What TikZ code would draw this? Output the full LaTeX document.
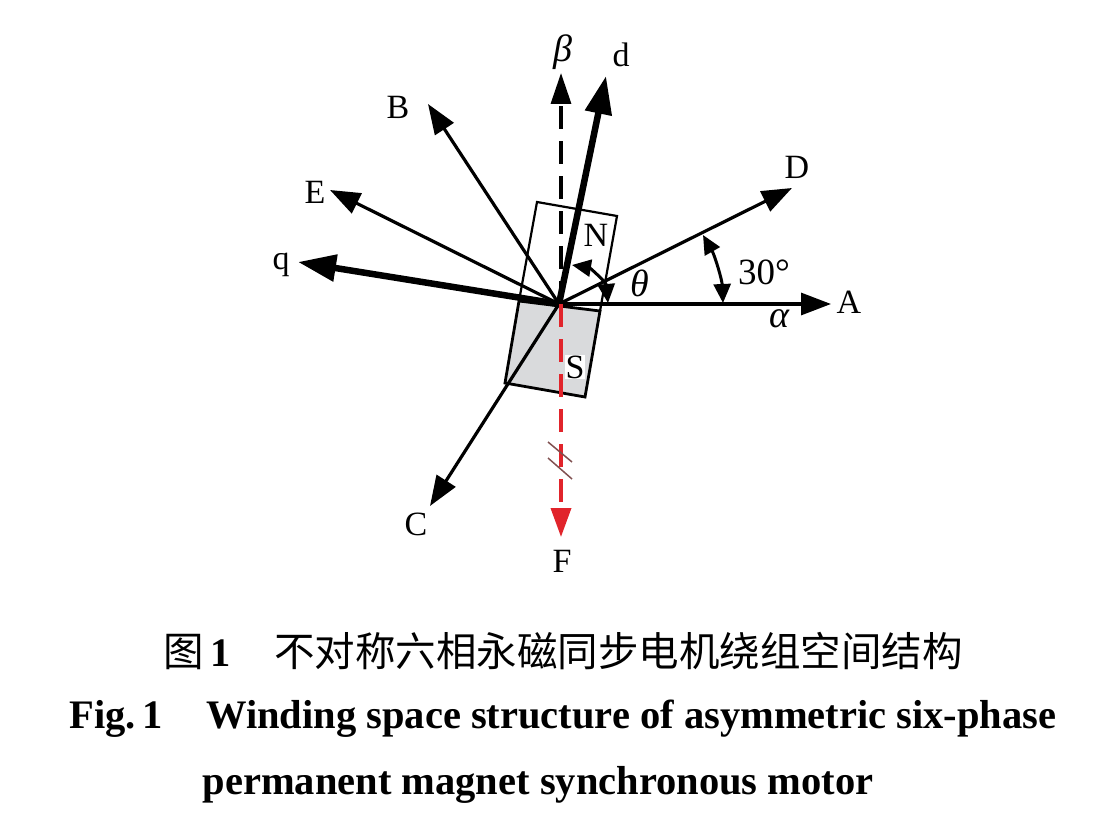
\documentclass[tikz,border=0pt]{standalone}
\usepackage{fontspec}
\setmainfont{Liberation Serif}
\newfontfamily\cjk{Noto Sans CJK SC}
\usepackage{xcolor}
\usetikzlibrary{positioning, arrows.meta}
\definecolor{magnetgray}{HTML}{D9DADC}
\definecolor{fluxred}{HTML}{E1242B}
\definecolor{hatchbrown}{HTML}{805050}

\begin{document}
\begin{tikzpicture}[
    x=1pt, y=-1pt,
    axislabel/.style={font=\fontsize{34}{34}\selectfont, inner sep=0pt},
    greeklabel/.style={font=\fontsize{38}{38}\selectfont\itshape, inner sep=0pt},
    captionline/.style={font=\fontsize{40.5}{40.5}\selectfont\bfseries, inner sep=0pt},
    arrow/.style={-{Triangle[length=30pt,width=22pt]}, line width=3.2pt},
    heavyarrow/.style={-{Triangle[length=38pt,width=26pt]}, line width=6.5pt},
    anglearrow/.style={{Triangle[length=19pt,width=17pt]}-{Triangle[length=19pt,width=17pt]}, line width=3pt},
    magnet/.style={line width=2.8pt, line join=miter}
]
\useasboundingbox (0,0) rectangle (1098,832);

% centre and free ends
\coordinate (o) at (559,304);
\coordinate (tipa) at (831,304);
\coordinate (tipd) at (792,188);
\coordinate (tipb) at (428,104);
\coordinate (tipe) at (330,190);
\coordinate (tipc) at (430,506);
\coordinate (tipq) at (298,262);
\coordinate (tipdd) at (606,76);
\coordinate (tipbeta) at (561,73);
\coordinate (tipf) at (561,537);
\coordinate (oa) at (561,304);

% magnet
\coordinate (n1) at (537,202);
\coordinate (n2) at (617,216);
\coordinate (m1) at (519,301);
\coordinate (m2) at (600,311);
\coordinate (s1) at (505,383);
\coordinate (s2) at (585,397);
\filldraw[magnet, fill=magnetgray] (m1) -- (m2) -- (s2) -- (s1) -- cycle;
\draw[line width=2.2pt] (m1) -- (n1) -- (n2) -- (m2);

\draw[dash pattern=on 23pt off 12pt, line width=3.4pt, -{Triangle[length=31pt,width=20pt]}] (oa) -- (tipbeta);
\draw[arrow] (o) -- (tipa);
\draw[arrow] (o) -- (tipd);
\draw[arrow] (o) -- (tipb);
\draw[arrow] (o) -- (tipe);
\draw[arrow] (o) -- (tipc);
\draw[heavyarrow] (o) -- (tipq);
\draw[heavyarrow] (o) -- (tipdd);
\draw[fluxred, dash pattern=on 23pt off 12pt, line width=3.6pt, -{Triangle[length=29pt,width=20pt]}] (oa) -- (tipf);

% double slash on F
\coordinate (h1) at (548,442);
\coordinate (h2) at (572,462);
\coordinate (h3) at (548,458);
\coordinate (h4) at (572,479);
\draw[hatchbrown, line width=1.5pt] (h1) -- (h2);
\draw[hatchbrown, line width=1.5pt] (h3) -- (h4);

% angles
\coordinate (th1) at (572,265);
\coordinate (th2) at (608,303);
\coordinate (al1) at (703,235);
\coordinate (al2) at (723,303);
\draw[anglearrow] (th1) .. controls (590,268) and (606,282) .. (th2);
\draw[anglearrow] (al1) .. controls (715,256) and (722,280) .. (al2);

% labels
\node[axislabel] (la) at (849,302) {A};
\node[axislabel] (ld) at (797,167) {D};
\node[axislabel] (lb) at (398,107) {B};
\node[axislabel] (le) at (315,192) {E};
\node[axislabel] (lc) at (416,524) {C};
\node[axislabel] (lq) at (281,265) {q};
\node[axislabel] (ldd) at (621,55) {d};
\node[axislabel] (lf) at (562,561) {F};
\node[axislabel] (ln) at (596,235) {N};
\node[axislabel, fill=white, inner sep=1pt] (ls) at (575,367) {S};
\node[greeklabel] (lbeta) at (563,52) {β};
\node[greeklabel] (ltheta) at (640,283) {θ};
\node[greeklabel] (lalpha) at (779,319) {α};
\node[font=\fontsize{37}{37}\selectfont, inner sep=0pt] (ldeg) at (764,272) {30°};

% caption
\node[captionline] (cap1) at (563,651) {{\cjk\mdseries 图}\,1\hspace{1.07em}{\cjk\mdseries 不对称六相永磁同步电机绕组空间结构}};
\node[captionline] (cap2) at (563,719) {Fig.\,1\hspace{1.07em}Winding space structure of asymmetric six-phase};
\node[captionline] (cap3) at (538,785) {permanent magnet synchronous motor};

\end{tikzpicture}
\end{document}
